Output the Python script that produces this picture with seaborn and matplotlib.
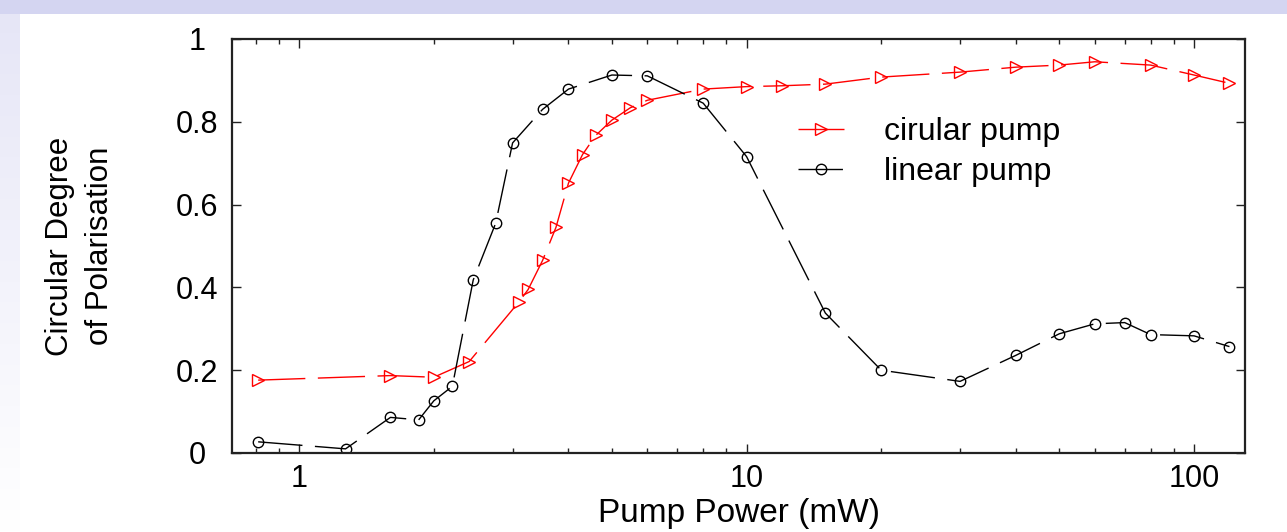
import matplotlib
matplotlib.use("Agg")
import matplotlib.pyplot as plt
from matplotlib.patches import Rectangle
from matplotlib.ticker import NullFormatter
import numpy as np
import pandas as pd
import seaborn as sns

# Pump power (mW) and circular degree of polarisation for each pump type
circular_power = [0.81, 1.6, 2.0, 2.4, 3.1, 3.25, 3.5, 3.75, 4.0, 4.3, 4.6, 5.0, 5.5,
                  6.0, 8.0, 10, 12, 15, 20, 30, 40, 50, 60, 80, 100, 120]
circular_dop = [0.176, 0.187, 0.183, 0.221, 0.365, 0.395, 0.465, 0.545, 0.652, 0.721,
                0.767, 0.804, 0.834, 0.852, 0.879, 0.885, 0.887, 0.891, 0.908, 0.920,
                0.932, 0.937, 0.945, 0.937, 0.913, 0.893]

linear_power = [0.81, 1.27, 1.6, 1.85, 2.0, 2.2, 2.45, 2.75, 3.0, 3.5, 4.0, 5.0, 6.0,
                8.0, 10, 15, 20, 30, 40, 50, 60, 70, 80, 100, 120]
linear_dop = [0.027, 0.010, 0.086, 0.080, 0.126, 0.161, 0.418, 0.555, 0.749, 0.830,
              0.879, 0.913, 0.911, 0.845, 0.716, 0.338, 0.200, 0.173, 0.236, 0.288,
              0.312, 0.315, 0.286, 0.283, 0.257]

x_ticks = [1, 10, 100]
x_tick_labels = ["1", "10", "100"]
y_ticks = [0, 0.2, 0.4, 0.6, 0.8, 1.0]
y_tick_labels = ["0", "0.2", "0.4", "0.6", "0.8", "1"]

circ = pd.DataFrame({"power": circular_power, "dop": circular_dop})
lin = pd.DataFrame({"power": linear_power, "dop": linear_dop})

sns.set_theme(style="ticks")
plt.rcParams["font.family"] = ["Liberation Sans", "DejaVu Sans"]

W, H = 1287, 532
fig = plt.figure(figsize=(W / 100, H / 100), dpi=100, facecolor="white")

# Slide-style frame: lavender band on top, fading strip on the left
fig.add_artist(Rectangle((0, 1 - 14 / H), 1, 14 / H, transform=fig.transFigure,
                         facecolor="#d4d5f1", edgecolor="none", zorder=0))
strip = fig.add_axes([0, 0, 20 / W, 1 - 14 / H], zorder=0)
grad_v = np.linspace(0, 1, 200)[:, None]
t = np.clip(0.35 + 0.65 * grad_v, 0, 1) * np.ones((1, 20))
top_col = np.array([0.85, 0.85, 0.95])
img = top_col[None, None, :] * (1 - t[..., None]) + np.ones(3)[None, None, :] * t[..., None]
strip.imshow(img[::-1], aspect="auto", origin="lower", extent=[0, 1, 0, 1])
strip.set_axis_off()

ax = fig.add_axes([232 / W, 1 - 453 / H, (1245 - 232) / W, (453 - 39) / H], zorder=1)
ax.set_facecolor("white")

sns.lineplot(data=circ, x="power", y="dop", ax=ax, color="red", marker=">",
             markersize=8, mfc="none", mec="red", mew=1.0, lw=1.0,
             linestyle=(0, (34, 9)), estimator=None, sort=False,
             label="cirular pump")
sns.lineplot(data=lin, x="power", y="dop", ax=ax, color="black", marker="o",
             markersize=7.5, mfc="none", mec="black", mew=1.0, lw=1.0,
             linestyle=(0, (32, 9)), estimator=None, sort=False,
             label="linear pump")

ax.set_xscale("log")
ax.set_xlim(0.708, 130)
ax.set_ylim(0, 1)
ax.set_xticks(x_ticks, labels=x_tick_labels)
ax.xaxis.set_minor_formatter(NullFormatter())
ax.set_yticks(y_ticks, labels=y_tick_labels)

for side in ["left", "right", "top", "bottom"]:
    ax.spines[side].set_visible(True)
    ax.spines[side].set_color("#222222")
    ax.spines[side].set_linewidth(1.6)

ax.tick_params(which="both", direction="in", top=True, right=True,
               color="#222222", width=1.0, labelsize=22, labelcolor="black")
ax.tick_params(which="major", length=6.5)
ax.tick_params(which="minor", length=3.5)
ax.tick_params(axis="x", which="major", pad=8)
ax.tick_params(axis="y", which="major", pad=25)
for lbl in ax.get_yticklabels():
    lbl.set_ha("center")

ax.set_xlabel("Pump Power (mW)", fontsize=24, labelpad=3, color="black")
ax.set_ylabel("Circular Degree\nof Polarisation", fontsize=22.5, color="black",
              linespacing=1.45, va="center", ha="center")
ax.yaxis.set_label_coords((80 - 232) / (1245 - 232), 0.5)

leg = ax.legend(loc="upper left", bbox_to_anchor=((798 - 232) / 1013, (453 - 117) / 414),
                frameon=False, fontsize=23, handlelength=1.45, handletextpad=1.25,
                labelspacing=0.32, borderpad=0, borderaxespad=0, numpoints=1)
for txt in leg.get_texts():
    txt.set_color("black")

fig.savefig("out.png", dpi=100, facecolor=fig.get_facecolor())
